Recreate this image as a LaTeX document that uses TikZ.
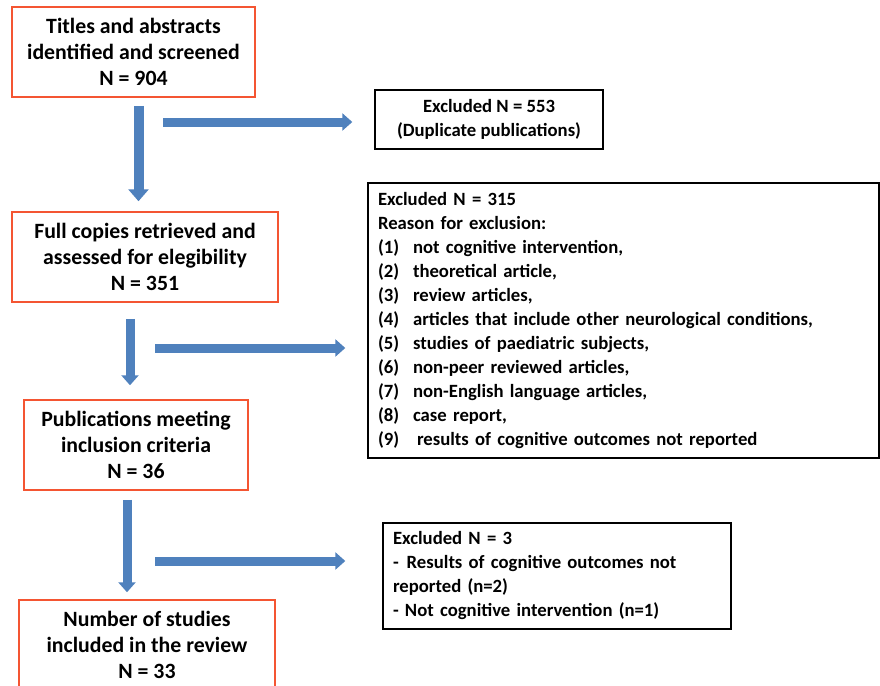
\documentclass[tikz,border=0pt]{standalone}
\usepackage{fontspec}
\setmainfont{Carlito}
\usetikzlibrary{arrows.meta}
\definecolor{boxorange}{RGB}{244,85,50}
\definecolor{arrowblue}{RGB}{79,129,189}
\tikzset{
  leftbox/.style={draw=boxorange, line width=1.5pt, inner sep=0pt, align=center,
    font=\fontsize{21.8}{26}\selectfont\bfseries},
  rightbox/.style={draw=black, line width=1.4pt, inner sep=0pt,
    font=\fontsize{18.7}{24}\selectfont\bfseries},
  bigarr/.style={arrowblue, line width=10pt, -{Triangle[width=20pt,length=12pt]}},
  smallarr/.style={arrowblue, line width=9pt, -{Triangle[width=17pt,length=10pt]}},
}
\newcommand{\itm}[1]{\makebox[35pt][l]{#1}}
\begin{document}
\begin{tikzpicture}[x=1pt,y=-1pt]
\useasboundingbox (0,0) rectangle (880,685);
\clip (0,0) rectangle (880,685);
\fill[white] (0,0) rectangle (880,685);
% left column
\node[leftbox, minimum width=243pt, minimum height=90pt] (b1) at (133.5,52)
  {Titles and abstracts\\identified and screened\\N = 904};
\node[leftbox, minimum width=266pt, minimum height=90pt] (b2) at (145,257)
  {Full copies retrieved and\\assessed for elegibility\\N = 351};
\node[leftbox, minimum width=224pt, minimum height=90pt] (b3) at (136,445)
  {Publications meeting\\inclusion criteria\\N = 36};
\node[leftbox, minimum width=256pt, minimum height=90pt] (b4) at (147,645)
  {Number of studies\\included in the review\\N = 33};
% right column
\node[rightbox, minimum width=228pt, minimum height=59pt, align=center] (r1) at (489,119.5)
  {Excluded N = 553\\(Duplicate publications)};
\node[rightbox, minimum width=511pt, minimum height=275pt, text width=491pt,
      inner xsep=10pt, align=left] (r2) at (623.5,320.5)
  {Excluded N = 315\\
   Reason for exclusion:\\
   \itm{(1)}not cognitive intervention,\\
   \itm{(2)}theoretical article,\\
   \itm{(3)}review articles,\\
   \itm{(4)}articles that include other neurological conditions,\\
   \itm{(5)}studies of paediatric subjects,\\
   \itm{(6)}non-peer reviewed articles,\\
   \itm{(7)}non-English language articles,\\
   \itm{(8)}case report,\\
   \itm{(9)}\hspace{4pt}results of cognitive outcomes not reported};
\node[rightbox, minimum width=348pt, minimum height=106pt, text width=328pt,
      inner xsep=10pt, align=left] (r3) at (557,576)
  {Excluded N = 3\\
   -\hspace{8pt}Results of cognitive outcomes not\\
   reported (n=2)\\
   - Not cognitive intervention (n=1)};
% free arrow starts
\coordinate (h1s) at (163,122);
\coordinate (h2s) at (155,348);
\coordinate (h3s) at (155,561);
% vertical arrows
\draw[bigarr] ([xshift=5pt,yshift=-8pt]b1.south) -- ([xshift=-6.5pt,yshift=10pt]b2.north);
\draw[smallarr] ([xshift=-15pt,yshift=-16pt]b2.south) -- ([xshift=-6pt,yshift=14pt]b3.north);
\draw[smallarr] ([xshift=-9pt,yshift=-9pt]b3.south) -- ([xshift=-20pt,yshift=7pt]b4.north);
% horizontal arrows
\draw[smallarr] (h1s) -- ([xshift=-22pt,yshift=-2.5pt]r1.west);
\draw[smallarr] (h2s) -- ([xshift=-22pt,yshift=-27.5pt]r2.west);
\draw[smallarr] (h3s) -- ([xshift=-37pt,yshift=15pt]r3.west);
\end{tikzpicture}
\end{document}
